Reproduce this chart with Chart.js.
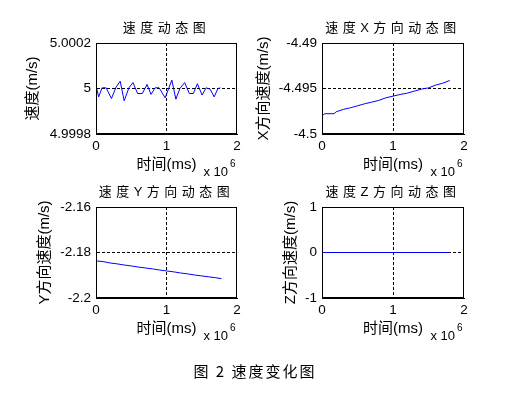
<!DOCTYPE html>
<html><head><meta charset="utf-8">
<script src="https://cdn.jsdelivr.net/npm/chart.js@4/dist/chart.umd.min.js"></script>
<style>
html,body{margin:0;padding:0;background:#fff;width:510px;height:394px;overflow:hidden}
canvas{position:absolute}
#caption{position:absolute;left:0;width:510px;top:361px;height:20px;line-height:20px;text-align:center;font-size:15px;font-family:'Noto Sans CJK SC',sans-serif;letter-spacing:2px;color:#000}
</style></head><body>
<canvas id="c1" width="255" height="185" style="left:0;top:0"></canvas>
<canvas id="c2" width="255" height="185" style="left:255px;top:0"></canvas>
<canvas id="c3" width="255" height="185" style="left:0;top:164px"></canvas>
<canvas id="c4" width="255" height="185" style="left:255px;top:164px"></canvas>
<div id="caption">图 2 速度变化图</div>
<script>
// ---- data ----
const xTickValues = [0, 1, 2];
const xTickLabels = ['0', '1', '2'];
const xAxisTitle = '时间(ms)';
const xMultiplierBase = 'x 10';
const xMultiplierExp = '6';

const titles = ['速度动态图', '速度X方向动态图', '速度Y方向动态图', '速度Z方向动态图'];
const yAxisTitles = ['速度(m/s)', 'X方向速度(m/s)', 'Y方向速度(m/s)', 'Z方向速度(m/s)'];

const speedTime = [0, 0.038, 0.086, 0.143, 0.219, 0.286, 0.343, 0.4, 0.467, 0.524, 0.59, 0.657, 0.724, 0.781, 0.838, 0.895, 0.981, 1.076, 1.133, 1.19, 1.257, 1.324, 1.381, 1.438, 1.505, 1.562, 1.619, 1.676, 1.729, 1.762];
const speedValues = [5.000012, 4.999963, 5.000003, 5.000003, 4.999956, 5.000007, 5.000032, 4.999946, 5.000003, 5.000026, 4.999978, 4.999978, 5.000018, 4.999974, 5.000003, 5.000003, 4.999959, 5.000037, 4.999953, 5.0, 5.000026, 4.999978, 4.999978, 5.000021, 4.999971, 5.000003, 4.999997, 4.999963, 5.0, 5.000003];
const speedTicks = [4.9998, 5, 5.0002];
const speedTickLabels = ['4.9998', '5', '5.0002'];

const xDirTime = [0, 0.04, 0.17, 0.2, 0.3, 0.4, 0.5, 0.6, 0.7, 0.8, 0.9, 1.0, 1.1, 1.2, 1.3, 1.4, 1.5, 1.6, 1.7, 1.8];
const xDirValues = [-4.49799, -4.49777, -4.49777, -4.49756, -4.4973, -4.49712, -4.4969, -4.49668, -4.4965, -4.49631, -4.49602, -4.49584, -4.49566, -4.49551, -4.49529, -4.49507, -4.49493, -4.49463, -4.49442, -4.49412];
const xDirTicks = [-4.5, -4.495, -4.49];
const xDirTickLabels = ['-4.5', '-4.495', '-4.49'];

const yDirTime = [0, 0.1, 0.2, 0.3, 0.4, 0.5, 0.6, 0.7, 0.8, 0.9, 1.0, 1.1, 1.2, 1.3, 1.4, 1.5, 1.6, 1.7, 1.78];
const yDirValues = [-2.1837, -2.1840, -2.1846, -2.1850, -2.1855, -2.1859, -2.1864, -2.1868, -2.1872, -2.1877, -2.1881, -2.1885, -2.1890, -2.1894, -2.1899, -2.1903, -2.1907, -2.1911, -2.1915];
const yDirTicks = [-2.2, -2.18, -2.16];
const yDirTickLabels = ['-2.2', '-2.18', '-2.16'];

const zDirTime = [0, 1.8];
const zDirValues = [0, 0];
const zDirTicks = [-1, 0, 1];
const zDirTickLabels = ['-1', '0', '1'];

// ---- rendering ----
const FONT = "'Liberation Sans', 'Noto Sans CJK SC', sans-serif";

const framePlugin = {
  id: 'frame',
  afterDraw(chart, args, opts) {
    const {ctx, chartArea: a} = chart;
    ctx.save();
    ctx.strokeStyle = '#000';
    ctx.lineWidth = 1;
    const l = Math.round(a.left) + 0.5, r = Math.round(a.right) - 0.5;
    const t = Math.round(a.top) + 0.5, b = Math.round(a.bottom) - 0.5;
    ctx.strokeRect(l, t, r - l, b - t);
    // title
    ctx.fillStyle = '#000';
    ctx.font = '13px ' + FONT;
    ctx.letterSpacing = '4.5px';
    ctx.textAlign = 'center';
    ctx.textBaseline = 'middle';
    ctx.fillText(opts.title, (a.left + a.right) / 2, 28);
    ctx.letterSpacing = '0px';
    // multiplier
    ctx.textAlign = 'left';
    ctx.font = '13px ' + FONT;
    ctx.fillText(xMultiplierBase, a.right - 33.5, 172.5);
    ctx.font = '10px ' + FONT;
    ctx.fillText(xMultiplierExp, a.right - 7, 164);
    ctx.restore();
  }
};

function makeChart(id, time, values, ticks, tickLabels, idx, yAxisWidth, rightPad, yTitlePad) {
  const pts = time.map((t, i) => ({x: t, y: values[i]}));
  const midColor = c => (c.index === 1 ? '#000' : 'rgba(0,0,0,0)');
  return new Chart(document.getElementById(id), {
    type: 'line',
    data: { datasets: [{ data: pts, borderColor: '#0000ff', borderWidth: 1, pointRadius: 0, tension: 0, fill: false }] },
    options: {
      responsive: false, animation: false, devicePixelRatio: 1,
      layout: { padding: { top: 43, left: 0, right: rightPad, bottom: 0 } },
      plugins: { legend: { display: false }, tooltip: { enabled: false }, frame: { title: titles[idx] } },
      scales: {
        x: {
          type: 'linear', min: xTickValues[0], max: xTickValues[xTickValues.length - 1],
          afterBuildTicks: s => { s.ticks = xTickValues.map(v => ({ value: v })); },
          afterFit: s => { s.height = 185 - 134; },
          ticks: { color: '#000', font: { family: FONT, size: 13.5 }, padding: 4, maxRotation: 0, callback: (v, i) => xTickLabels[i] },
          grid: { color: midColor, drawTicks: false, lineWidth: 1 },
          border: { color: '#000', dash: [3, 2] },
          title: { display: true, text: xAxisTitle, color: '#000', font: { family: FONT, size: 15 }, padding: { top: 0, bottom: 11.5 } }
        },
        y: {
          type: 'linear', min: ticks[0], max: ticks[ticks.length - 1],
          afterBuildTicks: s => { s.ticks = ticks.map(v => ({ value: v })); },
          afterFit: s => { s.width = yAxisWidth; },
          ticks: { color: '#000', font: { family: FONT, size: 13.5 }, padding: 5, callback: (v, i) => tickLabels[i] },
          grid: { color: midColor, drawTicks: false, lineWidth: 1 },
          border: { color: '#000', dash: [3, 2] },
          title: { display: true, text: yAxisTitles[idx], color: '#000', font: { family: FONT, size: 15 }, padding: { top: yTitlePad, bottom: 0 } }
        }
      }
    },
    plugins: [framePlugin]
  });
}

makeChart('c1', speedTime, speedValues, speedTicks, speedTickLabels, 0, 96, 18, 23.5);
makeChart('c2', xDirTime, xDirValues, xDirTicks, xDirTickLabels, 1, 67, 46, 0);
makeChart('c3', yDirTime, yDirValues, yDirTicks, yDirTickLabels, 2, 96, 18, 35.5);
makeChart('c4', zDirTime, zDirValues, zDirTicks, zDirTickLabels, 3, 67, 46, 27);
</script>
</body></html>
